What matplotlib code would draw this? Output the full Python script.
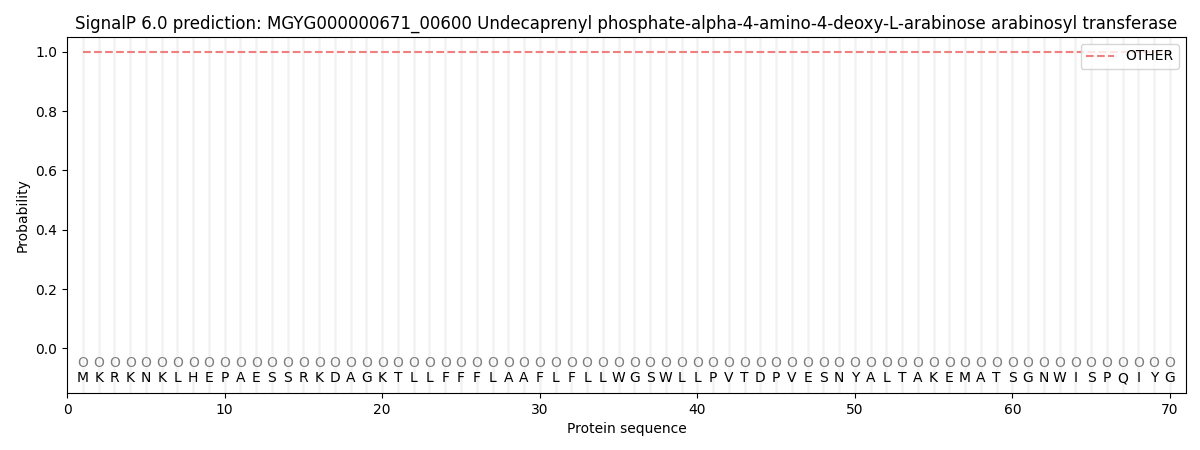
import matplotlib
matplotlib.use("Agg")
import matplotlib.pyplot as plt

# Sequence and per-residue prediction
sequence = "MKRKNKLHEPAESSRKDAGKTLLFFFLAAFLFLLWGSWLLPVTDPVESNYALTAKEMATSGNWISPQIYG"
positions = list(range(1, len(sequence) + 1))
other_prob = [1.0] * len(sequence)
title = "SignalP 6.0 prediction: MGYG000000671_00600 Undecaprenyl phosphate-alpha-4-amino-4-deoxy-L-arabinose arabinosyl transferase"

fig, ax = plt.subplots(figsize=(12, 4.5), dpi=100)

# light vertical guide per residue
for p in positions:
    ax.axvline(p, color="#f2f2f2", linewidth=1.8, zorder=0)

ax.plot(positions, other_prob, linestyle="--", color="#f08080", linewidth=1.5, label="OTHER")

# residue letters and markers below zero
for p, aa in zip(positions, sequence):
    ax.text(p, -0.05, "O", ha="center", va="center", fontsize=10, color="gray")
    ax.text(p, -0.1, aa, ha="center", va="center", fontsize=10, color="black")

ax.set_xlim(0, len(sequence) + 1)
ax.set_ylim(-0.15, 1.05)
ax.set_xlabel("Protein sequence")
ax.set_ylabel("Probability")
ax.set_title(title)
ax.legend(loc="upper right")

plt.subplots_adjust(left=0.056, right=0.988, top=0.918, bottom=0.127)
fig.savefig("out.png")
